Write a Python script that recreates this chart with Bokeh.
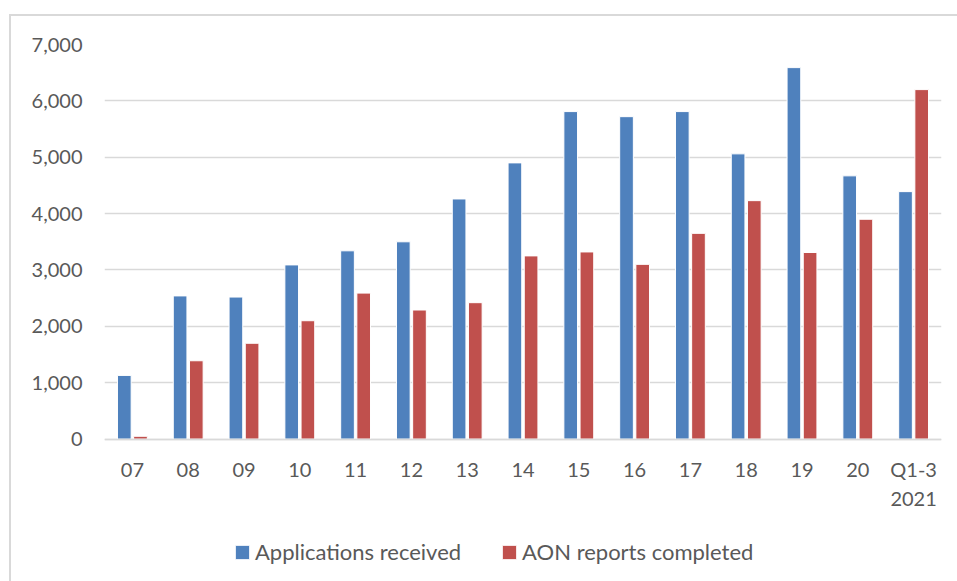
from bokeh.plotting import figure
from bokeh.models import ColumnDataSource, FactorRange, Range1d, FixedTicker, NumeralTickFormatter, Legend, LegendItem, InlineStyleSheet
from bokeh.transform import dodge
from bokeh.embed import file_html
from bokeh.resources import INLINE

categories = ["07", "08", "09", "10", "11", "12", "13", "14", "15", "16", "17", "18", "19", "20", "Q1-3\n2021"]
applications_received = [1130, 2540, 2520, 3090, 3340, 3500, 4260, 4900, 5810, 5720, 5810, 5060, 6590, 4670, 4390]
aon_reports_completed = [50, 1390, 1700, 2100, 2590, 2290, 2420, 3250, 3320, 3100, 3650, 4230, 3310, 3900, 6200]
y_ticks = [0, 1000, 2000, 3000, 4000, 5000, 6000, 7000]

source = ColumnDataSource(dict(cat=categories, app=applications_received, aon=aon_reports_completed))

FONT = "Lato"
TXT = "#595959"
GRID = "#d9d9d9"

# frame extends below the value axis to hold the legend (space below zero is empty)
p = figure(width=957, height=581, x_range=FactorRange(*categories, range_padding=0),
           y_range=Range1d(-2384, 7000), output_backend="svg", toolbar_location=None,
           min_border_left=104, min_border_right=16, min_border_top=44, min_border_bottom=8)

r1 = p.vbar(x=dodge("cat", -0.145, range=p.x_range), top="app", width=0.245, source=source,
            fill_color="#4F81BD", line_color="white", line_width=1)
r2 = p.vbar(x=dodge("cat", 0.145, range=p.x_range), top="aon", width=0.245, source=source,
            fill_color="#C0504D", line_color="white", line_width=1)

p.outline_line_color = None
p.xgrid.grid_line_color = None
p.ygrid.grid_line_color = GRID
p.ygrid.grid_line_width = 1.5

p.yaxis.ticker = FixedTicker(ticks=y_ticks)
p.yaxis.formatter = NumeralTickFormatter(format="0,0")
p.yaxis.axis_line_color = None
p.yaxis.major_tick_line_color = None
p.yaxis.minor_tick_line_color = None
p.yaxis.major_tick_out = 0
p.yaxis.major_label_standoff = 22
p.yaxis.major_label_text_font = FONT
p.yaxis.major_label_text_font_size = "20px"
p.yaxis.major_label_text_color = TXT

p.xaxis.fixed_location = 0
p.xaxis.axis_line_color = GRID
p.xaxis.axis_line_width = 1.5
p.xaxis.major_tick_line_color = None
p.xaxis.major_tick_out = 0
p.xaxis.major_tick_in = 0
p.xaxis.major_label_standoff = 18
p.xaxis.major_label_text_font = FONT
p.xaxis.major_label_text_font_size = "20px"
p.xaxis.major_label_text_color = TXT

legend = Legend(items=[LegendItem(label="Applications received", renderers=[r1]),
                       LegendItem(label="AON reports completed", renderers=[r2])],
                orientation="horizontal", location=(129, 8),
                glyph_width=18, glyph_height=18, label_standoff=4, spacing=39,
                padding=0, margin=0, border_line_color=None, background_fill_alpha=0,
                label_text_font=FONT, label_text_font_size="22px", label_text_color=TXT)
p.add_layout(legend, "center")

p.stylesheets = [InlineStyleSheet(css="""
:host::after { content: ""; position: absolute; left: 9px; top: 14px;
  width: calc(100% - 9px); height: calc(100% - 14px);
  border-left: 2px solid #d9d9d9; border-top: 2px solid #d9d9d9;
  box-sizing: border-box; pointer-events: none; }
""")]

open("out.html", "w").write(file_html(p, INLINE))
